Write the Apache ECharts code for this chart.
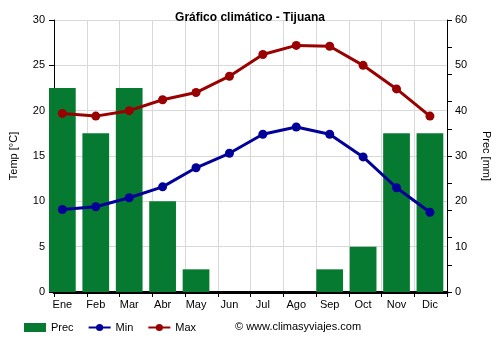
<!DOCTYPE html>
<html>
<head>
<meta charset="utf-8">
<script src="https://cdn.jsdelivr.net/npm/echarts@6/dist/echarts.min.js"></script>
<style>
  html, body { margin: 0; padding: 0; background: #fff; }
  #chart { width: 500px; height: 350px; }
</style>
</head>
<body>
<div id="chart"></div>
<script>
// Monthly climate data for Tijuana
const months = ['Ene', 'Feb', 'Mar', 'Abr', 'May', 'Jun', 'Jul', 'Ago', 'Sep', 'Oct', 'Nov', 'Dic'];
const precip = [45, 35, 45, 20, 5, 0, 0, 0, 5, 10, 35, 35];
const tempMin = [9.1, 9.4, 10.4, 11.6, 13.7, 15.3, 17.4, 18.2, 17.4, 14.9, 11.5, 8.8];
const tempMax = [19.7, 19.4, 20.0, 21.2, 22.0, 23.8, 26.2, 27.2, 27.1, 25.0, 22.4, 19.4];

const FONT = 'Liberation Sans, Arial, sans-serif';
const GREEN = '#067a30';
const BLUE = '#000099';
const RED = '#990000';

const chart = echarts.init(document.getElementById('chart'), null, { renderer: 'canvas' });

const hiddenAxis = { show: false };

chart.setOption({
  animation: false,
  backgroundColor: '#ffffff',
  textStyle: { fontFamily: FONT },
  title: {
    text: 'Gráfico climático - Tijuana',
    left: 'center',
    top: 7,
    textStyle: { fontFamily: FONT, fontSize: 12, fontWeight: 'bold', color: '#000' }
  },
  legend: {
    left: 19,
    top: 317,
    itemWidth: 22,
    itemHeight: 9,
    itemGap: 14,
    textStyle: { fontFamily: FONT, fontSize: 11, color: '#000' },
    data: [
      { name: 'Prec', icon: 'rect' },
      { name: 'Min' },
      { name: 'Max' }
    ]
  },
  graphic: [{
    type: 'text',
    left: 235,
    top: 321,
    style: {
      text: '© www.climasyviajes.com',
      font: '11px ' + FONT,
      fill: '#000'
    }
  }],
  grid: [
    // frame grid: axes, ticks and gridlines
    { left: 49, right: 50, top: 20, bottom: 58 },
    // data grid: bars start at the left edge of each month slot
    { left: 45.65, right: 53.35, top: 20, bottom: 58 }
  ],
  xAxis: [
    {
      type: 'category',
      gridIndex: 0,
      data: months,
      boundaryGap: true,
      axisLine: { show: true, lineStyle: { color: '#000', width: 3 } },
      axisTick: { show: true, length: 5, lineStyle: { color: '#000', width: 1 } },
      axisLabel: { show: false },
      splitLine: { show: true, lineStyle: { color: '#d9d9d9', width: 1 } }
    },
    {
      type: 'category',
      gridIndex: 1,
      data: months,
      boundaryGap: true,
      axisLine: { show: false },
      axisTick: { show: false },
      axisLabel: { show: true, margin: 7, fontFamily: FONT, fontSize: 11, color: '#000' },
      splitLine: { show: false }
    }
  ],
  yAxis: [
    {
      type: 'value',
      gridIndex: 0,
      position: 'left',
      min: 0, max: 30, interval: 5,
      name: 'Temp [°C]',
      nameLocation: 'middle',
      nameGap: 35,
      nameTextStyle: { fontFamily: FONT, fontSize: 11, color: '#000' },
      axisLine: { show: true, lineStyle: { color: '#000', width: 1 } },
      axisTick: { show: true, length: 5, lineStyle: { color: '#000' } },
      axisLabel: { fontFamily: FONT, fontSize: 11, color: '#000', margin: 9 },
      splitLine: { show: true, lineStyle: { color: '#d9d9d9', width: 1 } }
    },
    {
      type: 'value',
      gridIndex: 0,
      position: 'right',
      min: 0, max: 60, interval: 10,
      name: 'Prec [mm]',
      nameLocation: 'middle',
      nameGap: 34,
      nameRotate: -90,
      nameTextStyle: { fontFamily: FONT, fontSize: 11, color: '#000' },
      axisLine: { show: true, lineStyle: { color: '#000', width: 1 } },
      axisTick: { show: false },
      axisLabel: { fontFamily: FONT, fontSize: 11, color: '#000', margin: 8 },
      splitLine: { show: false }
    },
    {
      type: 'value',
      gridIndex: 0,
      position: 'right',
      min: 0, max: 60, interval: 6,
      axisLine: { show: false },
      axisTick: { show: true, length: 5, lineStyle: { color: '#000' } },
      axisLabel: { show: false },
      splitLine: { show: false }
    },
    Object.assign({ type: 'value', gridIndex: 1, min: 0, max: 30 }, hiddenAxis),
    Object.assign({ type: 'value', gridIndex: 1, min: 0, max: 60 }, hiddenAxis)
  ],
  series: [
    {
      name: 'Prec',
      type: 'bar',
      xAxisIndex: 1,
      yAxisIndex: 4,
      data: precip,
      barCategoryGap: '20%',
      itemStyle: { color: GREEN },
      z: 3
    },
    {
      name: 'Min',
      type: 'line',
      xAxisIndex: 1,
      yAxisIndex: 3,
      data: tempMin,
      symbol: 'circle',
      symbolSize: 9,
      lineStyle: { color: BLUE, width: 3 },
      itemStyle: { color: BLUE },
      z: 4
    },
    {
      name: 'Max',
      type: 'line',
      xAxisIndex: 1,
      yAxisIndex: 3,
      data: tempMax,
      symbol: 'circle',
      symbolSize: 9,
      lineStyle: { color: RED, width: 3 },
      itemStyle: { color: RED },
      z: 4
    }
  ]
});
</script>
</body>
</html>
